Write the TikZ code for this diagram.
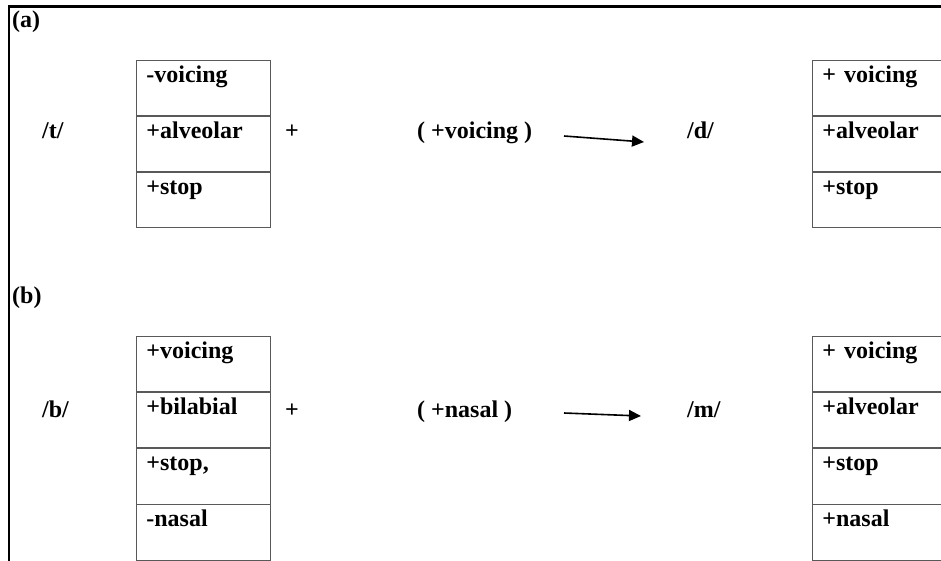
\documentclass[tikz,border=0pt]{standalone}
\usepackage{fontspec}
\setmainfont{Liberation Serif}
\usetikzlibrary{matrix,arrows.meta}

\tikzset{
  featbox/.style={matrix of nodes, anchor=north west, inner sep=0pt, outer sep=0pt,
    row sep=0pt,
    nodes={draw=black!65, line width=0.8pt, rectangle, outer sep=0pt,
      inner xsep=10pt, inner ysep=0pt, text width=114pt, align=left,
      text height=22pt, text depth=33.3pt}},
  lbl/.style={anchor=base west, inner sep=0pt},
  rulearrow/.style={-{Triangle[length=12pt,width=11pt]}, line width=1.6pt}
}

\begin{document}
\begin{tikzpicture}[x=1pt,y=-1pt,font=\fontsize{24}{28}\selectfont\bfseries]
  \clip (0,0) rectangle (941,561);
  % frame
  \draw[line width=2.5pt] (941,6.5) -- (9,6.5) -- (9,561);

  % (a) t -> d
  \node[lbl] (alab) at (12,28) {(a)};
  \node[lbl] (tsym) at (42,139) {/t/};
  \matrix[featbox] (tfeat) at (136,60) {
    -voicing \\
    +alveolar \\
    +stop \\
  };
  \node[lbl] (tplus) at (285,139) {+};
  \node[lbl] (aenv) at (417,139) {( +voicing )};
  \coordinate (aarrs) at (564,136);
  \coordinate (aarre) at (644,142);
  \draw[rulearrow] (aarrs) -- (aarre);
  \node[lbl] (dsym) at (687,139) {/d/};
  \matrix[featbox] (dfeat) at (812,60) {
    + voicing \\
    +alveolar \\
    +stop \\
  };

  % (b) b -> m
  \node[lbl] (blab) at (12,303) {(b)};
  \node[lbl] (bsym) at (42,417) {/b/};
  \matrix[featbox] (bfeat) at (136,336) {
    +voicing \\
    +bilabial \\
    +stop, \\
    -nasal \\
  };
  \node[lbl] (bplus) at (285,417) {+};
  \node[lbl] (benv) at (417,417) {( +nasal )};
  \coordinate (barrs) at (564,413);
  \coordinate (barre) at (641,416);
  \draw[rulearrow] (barrs) -- (barre);
  \node[lbl] (msym) at (687,417) {/m/};
  \matrix[featbox] (mfeat) at (812,336) {
    + voicing \\
    +alveolar \\
    +stop \\
    +nasal \\
  };
\end{tikzpicture}
\end{document}
